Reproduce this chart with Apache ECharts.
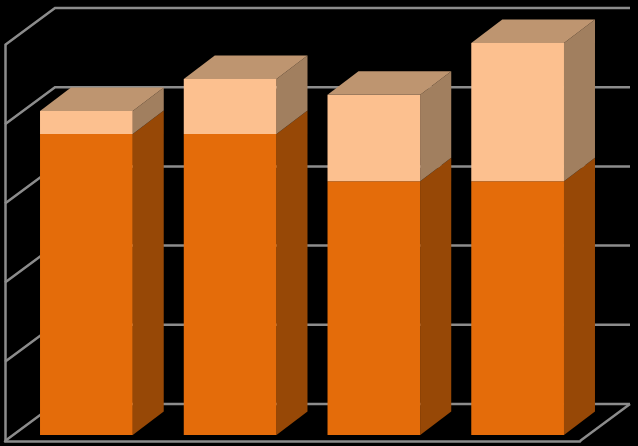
<!DOCTYPE html>
<html>
<head>
<meta charset="utf-8">
<style>html,body{margin:0;padding:0;background:#000}#c{width:638px;height:446px}</style>
<script src="https://cdn.jsdelivr.net/npm/echarts@6/dist/echarts.min.js"></script>
</head>
<body>
<div id="c"></div>
<script>
var categories = ['1', '2', '3', '4'];
var lowerValues = [76.0, 76.0, 64.1, 64.1];
var upperValues = [5.8, 13.9, 21.8, 34.9];
var yTicks = [0, 20, 40, 60, 80, 100];

var GRID_LINE = '#8C8C8C';
var GRID_WIDTH = 2.5;
var WALL_DX = 50, WALL_DY = -37;
var BAR_DX = 31, BAR_DY = -23.5;
var PLANE_DX = 9.5, PLANE_DY = -6;
var lowerColors = {front: '#E46C0A', side: '#974806', top: '#AA5A10'};
var upperColors = {front: '#FCC08F', side: '#A17F5F', top: '#BE9570'};

var chart = echarts.init(document.getElementById('c'), null, {renderer: 'canvas'});

function wallRender(params, api) {
  var v = api.value(1);
  var cs = params.coordSys;
  var y = api.coord([0, v])[1];
  var left = cs.x, right = cs.x + cs.width;
  var style = {stroke: GRID_LINE, lineWidth: GRID_WIDTH, fill: null};
  var children = [{
    type: 'polyline',
    shape: {points: [[left, y], [left + WALL_DX, y + WALL_DY], [right + WALL_DX, y + WALL_DY]]},
    style: style
  }];
  if (v === yTicks[0]) {
    children.push({
      type: 'line',
      shape: {x1: right, y1: y, x2: right + WALL_DX, y2: y + WALL_DY},
      style: style
    });
  }
  return {type: 'group', children: children};
}

function faceStyle(color) {
  return {fill: color, stroke: color, lineWidth: 0.01};
}

function barRender(colors, withTop) {
  return function (params, api) {
    var i = api.value(0);
    var p0 = api.coord([i, api.value(1)]);
    var p1 = api.coord([i, api.value(2)]);
    var w = api.size([1, 0])[0] * 0.645;
    var x0 = p0[0] - w / 2 + PLANE_DX, x1 = x0 + w;
    var yb = p0[1] + PLANE_DY, yt = p1[1] + PLANE_DY;
    var children = [
      {type: 'polygon', shape: {points: [[x1, yb], [x1 + BAR_DX, yb + BAR_DY], [x1 + BAR_DX, yt + BAR_DY], [x1, yt]]},
        style: faceStyle(colors.side)},
      {type: 'rect', shape: {x: x0, y: yt, width: w, height: yb - yt}, style: faceStyle(colors.front)}
    ];
    if (withTop) {
      children.push({type: 'polygon', shape: {points: [[x0, yt], [x0 + BAR_DX, yt + BAR_DY], [x1 + BAR_DX, yt + BAR_DY], [x1, yt]]},
        style: faceStyle(colors.top)});
    }
    return {type: 'group', children: children};
  };
}

var lowerData = categories.map(function (c, i) { return [i, 0, lowerValues[i]]; });
var upperData = categories.map(function (c, i) { return [i, lowerValues[i], lowerValues[i] + upperValues[i]]; });

chart.setOption({
  animation: false,
  backgroundColor: '#000000',
  grid: {left: 5, right: 58, top: 45, bottom: 5, containLabel: false},
  xAxis: {
    type: 'category',
    data: categories,
    axisLine: {show: true, onZero: false, lineStyle: {color: GRID_LINE, width: GRID_WIDTH}},
    axisTick: {show: false},
    axisLabel: {show: false},
    splitLine: {show: false}
  },
  yAxis: {
    type: 'value',
    min: 0,
    max: 100,
    interval: 20,
    axisLine: {show: true, lineStyle: {color: GRID_LINE, width: GRID_WIDTH}},
    axisTick: {show: false},
    axisLabel: {show: false},
    splitLine: {show: false}
  },
  series: [
    {type: 'custom', name: 'walls', renderItem: wallRender, data: yTicks.map(function (t) { return [0, t]; }),
      encode: {x: 0, y: 1}, silent: true, z: 1},
    {type: 'custom', name: 'lower', renderItem: barRender(lowerColors, false), data: lowerData,
      encode: {x: 0, y: [1, 2]}, z: 2},
    {type: 'custom', name: 'upper', renderItem: barRender(upperColors, true), data: upperData,
      encode: {x: 0, y: [1, 2]}, z: 3}
  ]
});
</script>
</body>
</html>
